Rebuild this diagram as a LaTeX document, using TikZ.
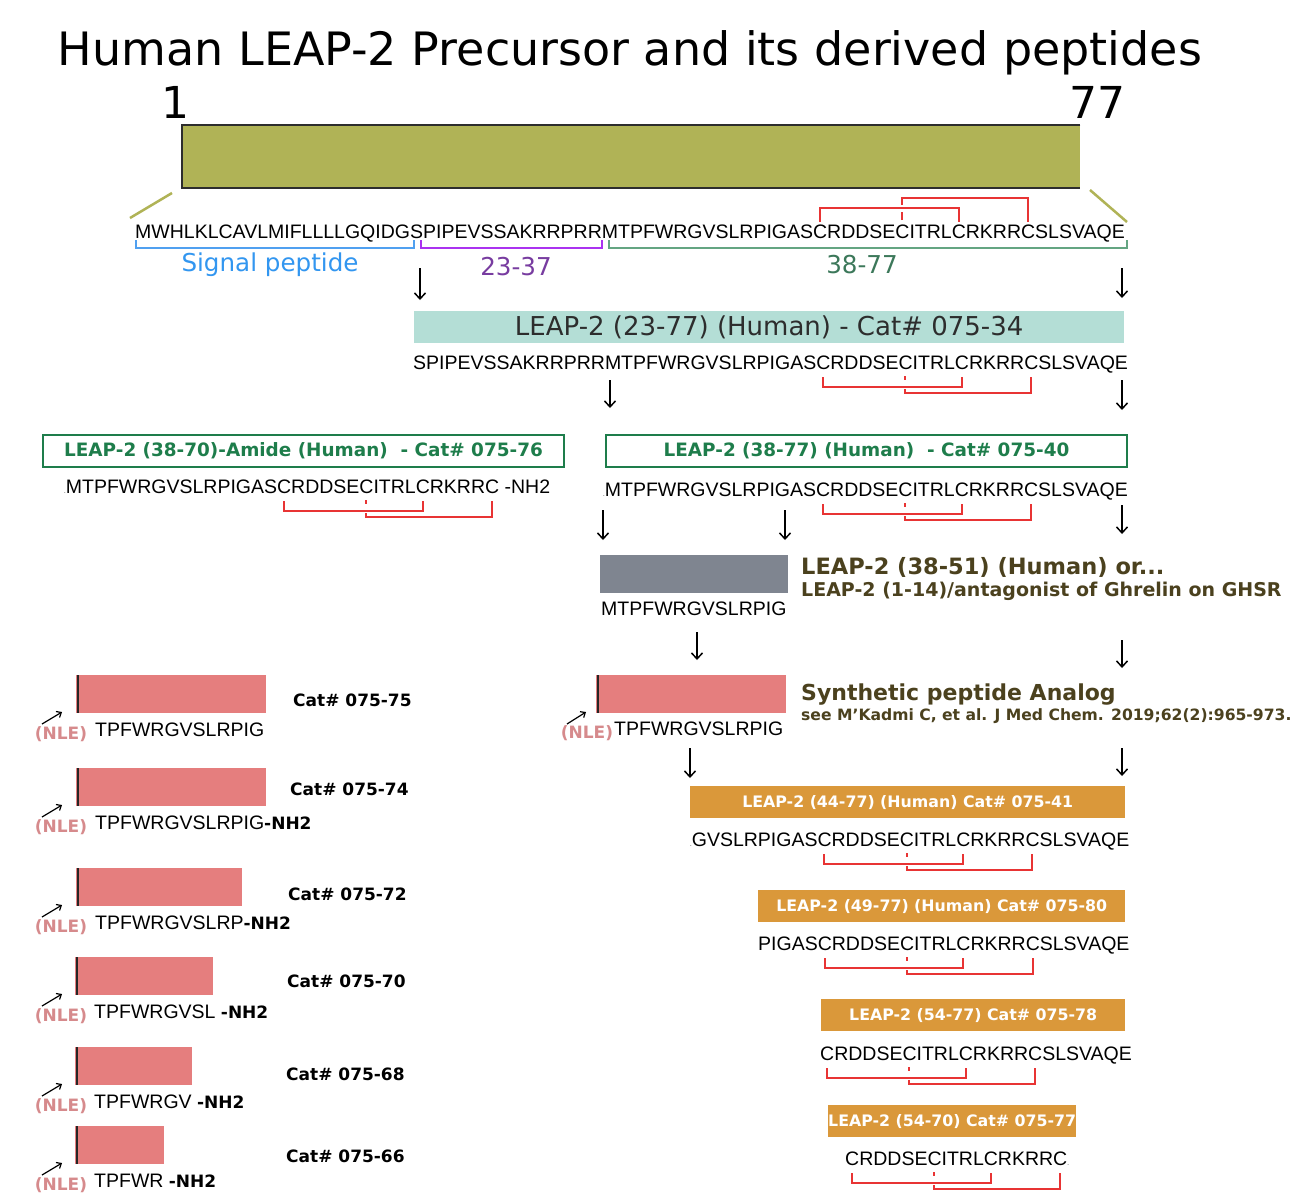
\documentclass[tikz,border=0pt]{standalone}
\usepackage{fontspec}
\setmainfont{DejaVu Sans}
\newfontfamily\seqf{Liberation Sans}
\usetikzlibrary{arrows.meta,calc}
\definecolor{olivec}{RGB}{176,179,86}
\definecolor{barline}{RGB}{45,45,45}
\definecolor{bondred}{RGB}{232,52,52}
\definecolor{blueb}{RGB}{80,160,240}
\definecolor{bluel}{RGB}{50,150,240}
\definecolor{purpb}{RGB}{170,50,240}
\definecolor{purpl}{RGB}{120,60,160}
\definecolor{greenb}{RGB}{100,165,130}
\definecolor{greenl}{RGB}{60,120,90}
\definecolor{tealc}{RGB}{180,222,214}
\definecolor{greenc}{RGB}{30,125,75}
\definecolor{grayc}{RGB}{127,133,144}
\definecolor{salmonc}{RGB}{229,126,126}
\definecolor{nlecol}{RGB}{214,138,140}
\definecolor{orangec}{RGB}{218,152,58}
\definecolor{brownc}{RGB}{75,65,30}
\newcommand\seqsz{\seqf\fontsize{19.5}{22}\selectfont}
\newcommand\tdot{{\fontsize{6}{6}\selectfont.}}
\newcommand\bnh{{\normalfont\bfseries\fontsize{17}{20}\selectfont -NH2}}
\newdimen\dA \newdimen\dB \newdimen\dC \newdimen\dD \newdimen\dH
\newdimen\cxa \newdimen\cxb \newdimen\cxc \newdimen\cxd
% measured inside the sequence node, where the right font is active
\newcommand\measure[1]{%
  \setbox0=\hbox{#1}\global\dA=\wd0
  \setbox0=\hbox{#1CRDDSE}\global\dB=\wd0
  \setbox0=\hbox{#1CRDDSECITRL}\global\dC=\wd0
  \setbox0=\hbox{#1CRDDSECITRLCRKRR}\global\dD=\wd0
  \setbox0=\hbox{C}\global\dH=0.5\wd0}
\newcommand\mkall[1]{%
  \cxa=\dA \advance\cxa by \dH
  \cxb=\dB \advance\cxb by \dH
  \cxc=\dC \advance\cxc by \dH
  \cxd=\dD \advance\cxd by \dH
  \coordinate (#1-c1) at ([xshift=\the\cxa]#1.base west);
  \coordinate (#1-c2) at ([xshift=\the\cxb]#1.base west);
  \coordinate (#1-c3) at ([xshift=\the\cxc]#1.base west);
  \coordinate (#1-c4) at ([xshift=\the\cxd]#1.base west);}
\newcommand\bondsdown[1]{%
  \mkall{#1}%
  \draw[bond] ([yshift=-8pt]#1-c1) |- ([yshift=-18pt]#1-c3) -- ([yshift=-8pt]#1-c3);
  \draw[bond] ([yshift=-7pt]#1-c2) -- ([yshift=-11pt]#1-c2);
  \draw[bond] ([yshift=-20pt]#1-c2) |- ([yshift=-24pt]#1-c4) -- ([yshift=-8pt]#1-c4);}
\newcommand\bondsup[1]{%
  \mkall{#1}%
  \draw[bond] ([yshift=16pt]#1-c1) |- ([yshift=30pt]#1-c3) -- ([yshift=16pt]#1-c3);
  \draw[bond] ([yshift=18pt]#1-c2) -- ([yshift=26pt]#1-c2);
  \draw[bond] ([yshift=33pt]#1-c2) |- ([yshift=40pt]#1-c4) -- ([yshift=16pt]#1-c4);}
\newcommand\darr[4]{%
  \coordinate (#1s) at (#2,#3); \coordinate (#1e) at (#2,#4);
  \draw[darrow] (#1s) -- (#1e);}
\newcommand\leftpep[8]{%
  \node[salmonbox, minimum width=#4pt] (#1box) at (#2,#3) {};
  \draw[edge] ([xshift=2pt]#1box.north west) -- ([xshift=2pt]#1box.south west);
  \node[seq] (#1seq) at (#2+19,#3+61) {#5};
  \node[nle] (#1nle) at (61,#3+59) {(NLE)};
  \coordinate (#1a1) at (42,#3+49); \coordinate (#1a2) at (62,#3+37);
  \draw[nlearrow] (#1a1) -- (#1a2);
  \node[catlbl] (#1cat) at (#6,#7) {Cat\# #8};}
\tikzset{
  seq/.style={anchor=base west, inner sep=0pt, font=\seqsz},
  bond/.style={draw=bondred, line width=2pt},
  darrow/.style={draw=black, line width=1.5pt, -{Straight Barb[length=6pt,width=11pt]}},
  nlearrow/.style={draw=black, line width=1.2pt, -{Straight Barb[length=4pt,width=7pt]}},
  salmonbox/.style={fill=salmonc, inner sep=0pt, anchor=north west, minimum height=38pt},
  edge/.style={draw=black!85, line width=2.5pt},
  catlbl/.style={anchor=west, inner sep=0pt, font=\bfseries\fontsize{17}{20}\selectfont},
  nle/.style={text=nlecol, font=\bfseries\fontsize{17}{20}\selectfont, inner sep=0pt},
  orangebox/.style={fill=orangec, text=white, font=\bfseries\fontsize{15.8}{18}\selectfont, inner sep=0pt, anchor=north west, minimum height=32pt},
  greenbox/.style={draw=greenc, line width=2pt, fill=white, text=greenc, font=\bfseries\fontsize{18.4}{21}\selectfont, inner sep=0pt, anchor=north west, minimum height=32pt, minimum width=521pt},
  brownlbl/.style={anchor=base west, inner sep=0pt, text=brownc},
  oliveline/.style={draw=olivec, line width=2.5pt},
  regbr/.style={line width=2.5pt},
  reglbl/.style={anchor=base, inner sep=0pt, font=\fontsize{24.6}{28}\selectfont},
}
\begin{document}
\begin{tikzpicture}[x=1pt,y=-1pt]
\fill[white] (0,0) rectangle (1296,1200);
\useasboundingbox (0,0) rectangle (1296,1200);

% title and precursor bar
\node[anchor=base, inner sep=0pt, font=\fontsize{46}{52}\selectfont] (title) at (630,65) {Human LEAP-2 Precursor and its derived peptides};
\node[anchor=base, inner sep=0pt, font=\fontsize{44}{50}\selectfont] (n1) at (175,118) {1};
\node[anchor=base, inner sep=0pt, font=\fontsize{44}{50}\selectfont] (n77) at (1097,118) {77};
\node[fill=olivec, minimum width=898pt, minimum height=63pt, inner sep=0pt, anchor=north west] (bar) at (182,125) {};
\draw[line width=2pt, draw=barline] (bar.north east) -- (bar.north west) -- (bar.south west) -- (bar.south east);
\coordinate (ol1) at (172,193); \coordinate (ol2) at (130,218);
\coordinate (or1) at (1090,190); \coordinate (or2) at (1127,222);
\draw[oliveline] (ol1) -- (ol2);
\draw[oliveline] (or1) -- (or2);

% full sequence
\node[seq] (seq1) at (135,238) {\measure{MWHLKLCAVLMIFLLLLGQIDGSPIPEVSSAKRRPRRMTPFWRGVSLRPIGAS}MWHLKLCAVLMIFLLLLGQIDGSPIPEVSSAKRRPRRMTPFWRGVSLRPIGASCRDDSECITRLCRKRRCSLSVAQE};
\bondsup{seq1}
\coordinate (sp1) at (136,248); \coordinate (sp2) at (414,248);
\coordinate (pp1) at (421,248); \coordinate (pp2) at (602,248);
\coordinate (mp1) at (609,248); \coordinate (mp2) at (1127,248);
\draw[regbr, draw=blueb] ([yshift=8pt]sp1) -- (sp1) -- (sp2) -- ([yshift=8pt]sp2);
\draw[regbr, draw=purpb] ([yshift=8pt]pp1) -- (pp1) -- (pp2) -- ([yshift=8pt]pp2);
\draw[regbr, draw=greenb] ([yshift=8pt]mp1) -- (mp1) -- (mp2) -- ([yshift=8pt]mp2);
\node[reglbl, text=bluel] (splbl) at (270,271) {Signal peptide};
\node[reglbl, text=purpl] (pplbl) at (516,275) {23-37};
\node[reglbl, text=greenl] (mplbl) at (862,273) {38-77};

\darr{a1}{420}{268}{300}
\darr{a2}{1122}{268}{298}

% 23-77
\node[fill=tealc, minimum width=710pt, minimum height=32pt, inner sep=0pt, anchor=north west, text={rgb,255:red,45;green,45;blue,45}, font=\fontsize{26}{30}\selectfont] (b2377) at (414,311) {LEAP-2 (23-77) (Human) - Cat\# 075-34};
\node[seq] (seq2) at (413,369) {\measure{SPIPEVSSAKRRPRRMTPFWRGVSLRPIGAS}SPIPEVSSAKRRPRRMTPFWRGVSLRPIGASCRDDSECITRLCRKRRCSLSVAQE};
\bondsdown{seq2}

\darr{a3}{610}{380}{408}
\darr{a4}{1122}{380}{410}

% 38-70 and 38-77
\node[greenbox] (g3870) at (42,434) {LEAP-2 (38-70)-Amide (Human)~ - Cat\# 075-76};
\node[greenbox] (g3877) at (605,434) {LEAP-2 (38-77) (Human)~ - Cat\# 075-40};
\node[seq] (s3L) at (64,493) {\measure{\tdot MTPFWRGVSLRPIGAS}\tdot MTPFWRGVSLRPIGASCRDDSECITRLCRKRRC -NH2};
\bondsdown{s3L}
\node[seq] (s3R) at (603,496) {\measure{\tdot MTPFWRGVSLRPIGAS}\tdot MTPFWRGVSLRPIGASCRDDSECITRLCRKRRCSLSVAQE};
\bondsdown{s3R}

\darr{a5}{603}{510}{540}
\darr{a6}{785}{510}{540}
\darr{a7}{1122}{505}{534}

% 38-51
\node[fill=grayc, minimum width=188pt, minimum height=38pt, inner sep=0pt, anchor=north west] (gray) at (600,555) {};
\node[seq] (s3851) at (601,615) {MTPFWRGVSLRPIG};
\node[brownlbl, font=\bfseries\fontsize{22.5}{26}\selectfont] (l3851) at (801,574) {LEAP-2 (38-51) (Human) or...};
\node[brownlbl, font=\bfseries\fontsize{19}{22}\selectfont] (l114) at (801,596) {LEAP-2 (1-14)/antagonist of Ghrelin on GHSR};

\darr{a8}{697}{632}{660}
\darr{a9}{1122}{640}{668}

% synthetic analog
\node[salmonbox, minimum width=190pt] (sm) at (596,675) {};
\draw[edge] ([xshift=2pt]sm.north west) -- ([xshift=2pt]sm.south west);
\node[seq] (smseq) at (614,735) {TPFWRGVSLRPIG};
\node[nle] (smnle) at (587,733) {(NLE)};
\coordinate (sma1) at (567,724); \coordinate (sma2) at (586,712);
\draw[nlearrow] (sma1) -- (sma2);
\node[brownlbl, font=\bfseries\fontsize{22}{26}\selectfont] (synl) at (801,700) {Synthetic peptide Analog};
\node[brownlbl, font=\bfseries\fontsize{15.6}{18}\selectfont] (cite) at (801,720) {see M’Kadmi C, et al. J Med Chem. 2019;62(2):965-973.};

% left column analogs
\leftpep{p1}{76}{675}{190}{TPFWRGVSLRPIG}{293}{700}{075-75}
\leftpep{p2}{76}{768}{190}{TPFWRGVSLRPIG\bnh}{290}{789}{075-74}
\leftpep{p3}{76}{868}{166}{TPFWRGVSLRP\bnh}{288}{894}{075-72}
\leftpep{p4}{75}{957}{138}{TPFWRGVSL \bnh}{287}{981}{075-70}
\leftpep{p5}{75}{1047}{117}{TPFWRGV \bnh}{286}{1074}{075-68}
\leftpep{p6}{75}{1126}{89}{TPFWR \bnh}{286}{1156}{075-66}

\darr{a10}{690}{748}{778}
\darr{a11}{1122}{748}{776}

% orange boxes
\node[orangebox, minimum width=435pt] (o1) at (690,786) {LEAP-2 (44-77) (Human) Cat\# 075-41};
\node[seq] (o1s) at (690,846) {\measure{\tdot GVSLRPIGAS}\tdot GVSLRPIGASCRDDSECITRLCRKRRCSLSVAQE};
\bondsdown{o1s}
\node[orangebox, minimum width=367pt] (o2) at (758,890) {LEAP-2 (49-77) (Human) Cat\# 075-80};
\node[seq] (o2s) at (758,950) {\measure{PIGAS}PIGASCRDDSECITRLCRKRRCSLSVAQE};
\bondsdown{o2s}
\node[orangebox, minimum width=304pt] (o3) at (821,999) {LEAP-2 (54-77) Cat\# 075-78};
\node[seq] (o3s) at (820,1060) {\measure{}CRDDSECITRLCRKRRCSLSVAQE};
\bondsdown{o3s}
\node[orangebox, minimum width=248pt] (o4) at (828,1105) {LEAP-2 (54-70) Cat\# 075-77};
\node[seq] (o4s) at (845,1165) {\measure{}CRDDSECITRLCRKRRC\tdot};
\bondsdown{o4s}
\end{tikzpicture}
\end{document}
